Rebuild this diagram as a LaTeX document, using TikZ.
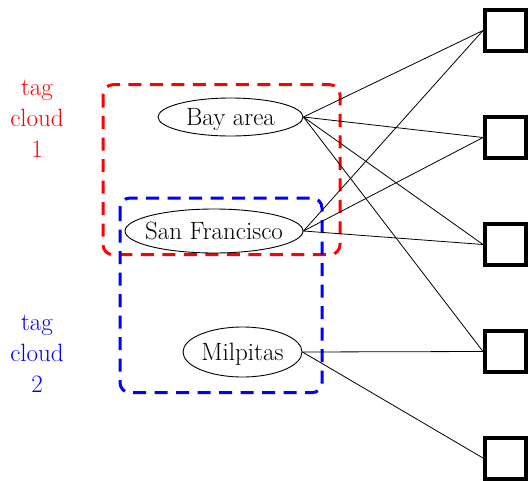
\documentclass[tikz,border=0pt]{standalone}
\usetikzlibrary{shapes.geometric}
\begin{document}
\begin{tikzpicture}[x=1pt,y=-1pt,
  tag/.style={ellipse,draw,line width=0.9pt,inner sep=0pt,
    font=\fontsize{25}{31}\selectfont,text height=17pt,text depth=0pt},
  sq/.style={draw,line width=4pt,minimum width=41pt,minimum height=41pt,inner sep=0pt},
  conn/.style={line width=0.8pt},
  cloudlbl/.style={align=center,font=\fontsize{25}{31}\selectfont,inner sep=0pt},
  cloudbox/.style={line width=3pt,dash pattern=on 13pt off 8.5pt,rounded corners=10pt}]
\useasboundingbox (0,0) rectangle (528,480);
% dashed clouds
\draw[cloudbox,red] (103,84.7) rectangle (340,254.7);
\draw[cloudbox,blue] (120,198) rectangle (322,392.7);
% labels
\node[cloudlbl,red] (l1) at (37,119) {tag\\cloud\\1};
\node[cloudlbl,blue] (l2) at (37,354) {tag\\cloud\\2};
% tags
\node[tag,minimum width=145pt,minimum height=38pt] (bay) at (230.5,117) {\makebox[0pt]{Bay area}};
\node[tag,minimum width=178pt,minimum height=44pt] (sf) at (214,231) {\makebox[0pt]{San Francisco}};
\node[tag,minimum width=119pt,minimum height=50pt] (mil) at (242.5,352) {\makebox[0pt]{Milpitas}};
% squares
\node[sq] (s1) at (505.5,30.5) {};
\node[sq] (s2) at (505.5,137.5) {};
\node[sq] (s3) at (505.5,244.5) {};
\node[sq] (s4) at (505.5,351.5) {};
\node[sq] (s5) at (505.5,458) {};
% connectors
\draw[conn] (bay.east) -- (s1.west);
\draw[conn] (bay.east) -- (s2.west);
\draw[conn] (bay.east) -- (s3.west);
\draw[conn] (bay.east) -- (s4.west);
\draw[conn] (sf.east) -- (s1.west);
\draw[conn] (sf.east) -- (s2.west);
\draw[conn] (sf.east) -- (s3.west);
\draw[conn] (mil.east) -- (s4.west);
\draw[conn] (mil.east) -- (s5.west);
\end{tikzpicture}
\end{document}
